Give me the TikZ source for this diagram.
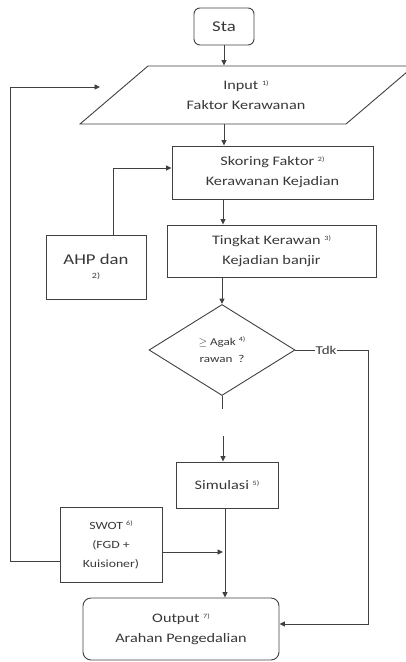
\documentclass[tikz,border=0pt]{standalone}
\usepackage{fontspec}
\setmainfont[FakeStretch=1.25]{Carlito}
\usetikzlibrary{arrows.meta,shapes.geometric}
\newcommand\fnote[1]{\raisebox{4pt}{\fontsize{6.5}{6.5}\selectfont #1}}
\tikzset{
  x=1pt, y=-1pt,
  ln/.style={draw=black!75, line width=0.9pt},
  arr/.style={ln, -{Triangle[length=5.5pt,width=5pt]}},
  boxst/.style={ln, rectangle, inner sep=0pt, align=center, text=black!78, font=\fontsize{13}{20}\selectfont},
  rbox/.style={boxst, rounded corners=6pt},
}
\begin{document}
\begin{tikzpicture}
\useasboundingbox (0,0) rectangle (406,662);
% Start
\node[rbox, minimum width=60pt, minimum height=37pt, font=\fontsize{15}{18}\selectfont] (sta) at (224,26.5) {Sta};
% Input parallelogram
\draw[ln] (80,124) -- (148,66) -- (414,66) -- (346,124) -- cycle;
\node[boxst, draw=none, minimum width=190pt, minimum height=58pt] (input) at (246,95) {Input \fnote{1)}\\Faktor Kerawanan};
% Skoring
\node[boxst, minimum width=201pt, minimum height=53pt] (skor) at (272.5,172.5) {Skoring Faktor \fnote{2)}\\Kerawanan Kejadian};
% Tingkat
\node[boxst, minimum width=209pt, minimum height=52pt] (ting) at (271.5,251) {Tingkat Kerawan \fnote{3)}\\Kejadian banjir};
% AHP
\node[boxst, minimum width=100pt, minimum height=64pt, font=\fontsize{15}{17}\selectfont] (ahp) at (96,267) {AHP dan\\[-3pt]{\fontsize{8}{8}\selectfont 2)}};
% Decision
\node[ln, diamond, aspect=1.6, minimum width=146pt, minimum height=91pt, inner sep=0pt, align=center, text=black!78, font=\fontsize{10.5}{17}\selectfont] (dec) at (222,350) {$\geq$ Agak \fnote{4)}\\rawan \ ?};
\node[font=\fontsize{12}{14}\selectfont, text=black!78, inner sep=0pt] (tdk) at (326,350) {Tdk};
\coordinate (stub) at (222,409);
\coordinate (simin) at (223,436);
% Simulasi
\node[boxst, minimum width=102pt, minimum height=46pt] (sim) at (227,485) {Simulasi \fnote{5)}};
% SWOT
\node[boxst, minimum width=102pt, minimum height=75pt, font=\fontsize{11}{19}\selectfont] (swot) at (111,544.5) {SWOT \fnote{6)}\\(FGD +\\Kuisioner)};
% Output
\node[rbox, minimum width=196pt, minimum height=62pt, rounded corners=8pt] (out) at (181,629) {Output \fnote{7)}\\Arahan Pengedalian};
\coordinate (loopc) at (10,87);
\coordinate (loopend) at (100,87);
% connectors
\draw[arr] (sta.south) -- (sta.south |- input.north);
\draw[arr] (input.south -| 224,0) -- (224,0 |- skor.north);
\draw[arr] (skor.south -| 223,0) -- (223,0 |- ting.north);
\draw[arr] (ting.south -| dec.north) -- (dec.north);
\draw[arr] (ahp.north -| 113,0) -- (113,168) -- (skor.west |- 0,168);
\draw[ln] (dec.east) -- (tdk.west);
\draw[arr] (tdk.east) -- (368,350) -- (368,624) -- (out.east |- 0,624);
\draw[ln] (dec.south) -- (stub);
\draw[arr] (simin) -- (simin |- sim.north);
\draw[arr] (sim.south -| 225,0) -- (225,0 |- out.north);
\draw[arr] (swot.east |- 0,552) -- (223,552);
\draw[arr] (swot.west |- 0,561) -- (loopc |- 0,561) -- (loopc) -- (loopend);
\end{tikzpicture}
\end{document}
